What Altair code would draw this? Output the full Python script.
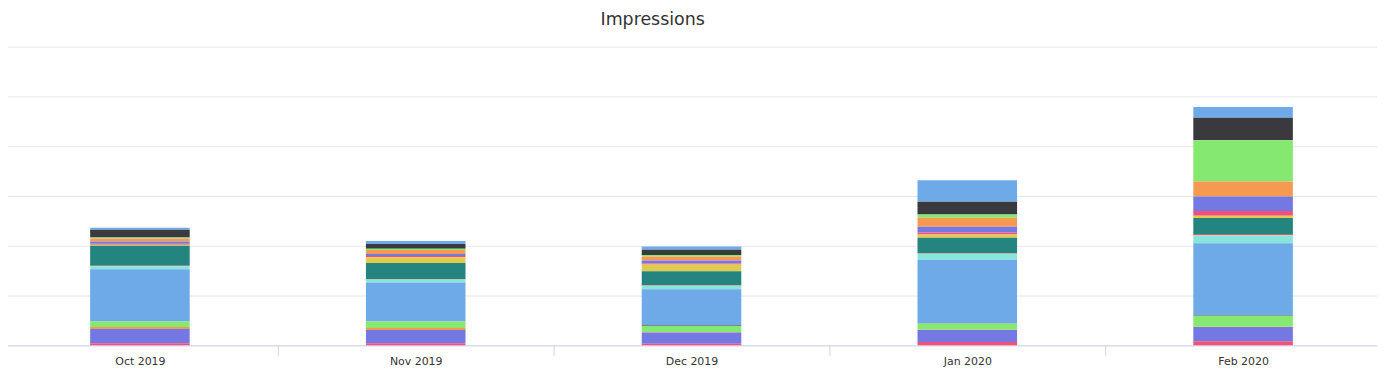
import altair as alt
import pandas as pd

months = ["Oct 2019", "Nov 2019", "Dec 2019", "Jan 2020", "Feb 2020"]
series = [f"Series {i + 1}" for i in range(16)]

# values per month, series 1 (top of stack) .. series 16 (bottom of stack)
oct_2019 = [2, 7.7, 1, 3, 2.3, 1, 1, 20, 0.7, 3, 52.3, 0, 5.7, 2, 14.3, 2]
nov_2019 = [3, 4.7, 1.3, 4, 2, 1.2, 5.8, 16, 0.7, 3, 39, 0, 6.7, 2, 13.3, 2]
dec_2019 = [3.3, 5.3, 1.5, 4, 3, 1, 6.9, 14, 0.5, 3.5, 36.3, 0.7, 6, 0.3, 11.3, 1.7]
jan_2020 = [21.7, 12.7, 3.3, 9, 5.7, 2, 3.3, 15.7, 0.5, 6, 63.7, 0.3, 6.3, 0.3, 12, 3.3]
feb_2020 = [10.7, 22.7, 41.3, 15, 14.7, 4.7, 2.3, 16, 1.3, 8, 72.3, 0.7, 11, 0.3, 14.3, 4]

palette = ["#6faae8", "#3a3a3e", "#85e870", "#f69a52", "#7478e2",
           "#f0507a", "#e2ca4b", "#248480", "#f15458", "#86e6dc"]
colors = [palette[i % 10] for i in range(16)]

rows = []
for m, vals in zip(months, [oct_2019, nov_2019, dec_2019, jan_2020, feb_2020]):
    for i, (s, v) in enumerate(zip(series, vals)):
        rows.append({"month": m, "series": s, "idx": i, "value": v})
df = pd.DataFrame(rows)

chart = alt.Chart(df).mark_bar(size=100).encode(
    x=alt.X("month:N", sort=months,
            scale=alt.Scale(paddingInner=0, paddingOuter=0),
            axis=alt.Axis(title=None, labelAngle=0, labelFont="DejaVu Sans",
                          labelFontSize=11, labelColor="#333333", labelPadding=0,
                          domainColor="#ccd6eb", tickColor="#ccd6eb", tickSize=10,
                          tickBand="extent", grid=False)),
    y=alt.Y("value:Q", stack="zero",
            scale=alt.Scale(domain=[0, 300], nice=False),
            axis=alt.Axis(title=None, labels=False, ticks=False, domain=False,
                          grid=True, gridColor="#e6e6e6",
                          values=[0, 50, 100, 150, 200, 250, 300])),
    color=alt.Color("series:N", scale=alt.Scale(domain=series, range=colors), legend=None),
    order=alt.Order("idx:Q", sort="descending"),
).properties(
    width=1385, height=300,
    title=alt.TitleParams("Impressions", font="DejaVu Sans", fontSize=17.5,
                          fontWeight="normal", color="#333333", anchor="middle",
                          dx=-39, offset=4, baseline="alphabetic"),
    padding={"left": -6, "top": 38, "right": -4, "bottom": 30},
    autosize=alt.AutoSizeParams(type="none"),
).configure_view(stroke=None)

chart.save("out.html", embed_options={"renderer": "svg", "actions": False})
